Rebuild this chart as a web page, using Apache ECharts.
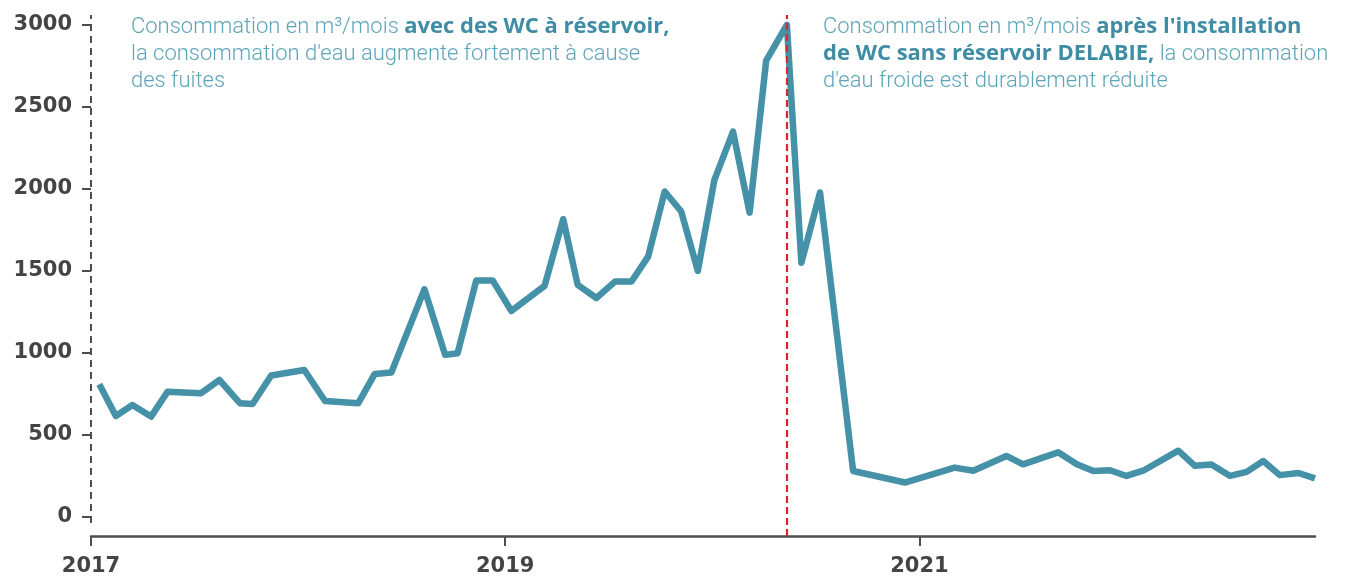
<!DOCTYPE html>
<html lang="fr">
<head>
<meta charset="utf-8">
<title>Consommation d'eau</title>
<script src="https://cdn.jsdelivr.net/npm/echarts@6/dist/echarts.min.js"></script>
<style>
  html, body { margin: 0; padding: 0; background: #ffffff; }
  #chart { width: 1353px; height: 577px; }
</style>
</head>
<body>
<div id="chart"></div>
<script>
// Reading dates, as decimal years
const periods = [
  2017.04, 2017.12, 2017.20, 2017.29, 2017.37, 2017.53, 2017.62, 2017.72, 2017.78, 2017.87,
  2018.03, 2018.13, 2018.29, 2018.37, 2018.45, 2018.61, 2018.71, 2018.77, 2018.86, 2018.94,
  2019.03, 2019.19, 2019.28, 2019.35, 2019.44, 2019.53, 2019.61, 2019.69, 2019.77, 2019.85,
  2019.93, 2020.01, 2020.10, 2020.18, 2020.26, 2020.36, 2020.43, 2020.52, 2020.68, 2020.93,
  2021.17, 2021.26, 2021.42, 2021.50, 2021.67, 2021.76, 2021.84, 2021.92, 2022.00, 2022.08,
  2022.25, 2022.33, 2022.41, 2022.50, 2022.58, 2022.66, 2022.74, 2022.83, 2022.91
];

// Monthly consumption (m3)
const consumption = [
  809, 616, 683, 612, 764, 754, 835, 693, 689, 862,
  896, 707, 693, 872, 880, 1388, 988, 998, 1441, 1441,
  1256, 1409, 1815, 1415, 1335, 1435, 1435, 1587, 1984, 1862,
  1500, 2055, 2349, 1855, 2782, 3000, 1550, 1978, 280, 210,
  301, 282, 372, 321, 394, 321, 280, 285, 250, 282,
  404, 312, 320, 250, 275, 341, 255, 268, 235
];

// Date of the DELABIE installation
const installation = 2020.36;

// Axis tick labels
const yearTicks = [2017, 2019, 2021];
const valueTicks = [0, 500, 1000, 1500, 2000, 2500, 3000];

const seriesData = periods.map((p, i) => [p, consumption[i]]);

const axisGrey = '#4d4d4d';
const lineTeal = '#4491a8';
const textTeal = '#5ea4b9';
const boldTeal = '#3f8ca4';
const numFont = '"DejaVu Sans", sans-serif';
const textFont = 'Roboto, "Noto Sans", sans-serif';
const boldFont = '"Open Sans", Roboto, sans-serif';

const richStyles = {
  r: { fontFamily: textFont, fontSize: 22, fontWeight: 300, fill: textTeal, lineHeight: 27 },
  b: { fontFamily: boldFont, fontSize: 22, fontWeight: 'bold', fill: boldTeal, lineHeight: 27 }
};

const chart = echarts.init(document.getElementById('chart'));

chart.setOption({
  animation: false,
  backgroundColor: '#ffffff',
  grid: { left: 91, right: 38, top: 15, bottom: 41, containLabel: false },
  xAxis: {
    type: 'value',
    min: yearTicks[0],
    max: 'dataMax',
    interval: 2,
    splitLine: { show: false },
    axisLine: { show: true, onZero: false, lineStyle: { color: axisGrey, width: 2.5 } },
    axisTick: {
      show: true, length: 10, inside: false,
      customValues: yearTicks,
      lineStyle: { color: axisGrey, width: 2 }
    },
    axisLabel: {
      customValues: yearTicks,
      margin: 20,
      color: '#444444',
      fontFamily: numFont,
      fontWeight: 'bold',
      fontSize: 21,
      formatter: v => String(v)
    }
  },
  yAxis: {
    type: 'value',
    min: -116,
    max: 3060,
    splitLine: { show: false },
    axisLine: { show: true, onZero: false, lineStyle: { color: axisGrey, opacity: 0 } },
    axisTick: {
      show: true, length: 9,
      customValues: valueTicks,
      lineStyle: { color: axisGrey, width: 2 }
    },
    axisLabel: {
      customValues: valueTicks,
      margin: 19,
      color: '#444444',
      fontFamily: numFont,
      fontWeight: 'bold',
      fontSize: 21,
      formatter: v => String(v)
    }
  },
  graphic: [
    {
      type: 'text',
      left: 131,
      top: 16,
      style: {
        text: '{r|Consommation en m³/mois }{b|avec des WC à réservoir,}\n{r|la consommation d\'eau augmente fortement à cause}\n{r|des fuites}',
        rich: richStyles
      }
    },
    {
      type: 'text',
      left: 823,
      top: 16,
      style: {
        text: '{r|Consommation en m³/mois }{b|après l\'installation}\n{b|de WC sans réservoir DELABIE,}{r| la consommation}\n{r|d\'eau froide est durablement réduite}',
        rich: richStyles
      }
    }
  ],
  series: [
    {
      type: 'line',
      data: seriesData,
      symbol: 'none',
      clip: false,
      lineStyle: { color: lineTeal, width: 6.5, join: 'round', cap: 'butt' },
      markLine: {
        silent: true,
        symbol: 'none',
        label: { show: false },
        data: [
          // installation date
          {
            xAxis: installation,
            lineStyle: { color: '#d7262d', width: 2.2, type: [7, 4] }
          },
          // dashed value axis line
          [
            { coord: [yearTicks[0], -36], lineStyle: { color: axisGrey, width: 2, type: [7, 5] } },
            { coord: [yearTicks[0], 3060] }
          ]
        ]
      }
    }
  ]
});
</script>
</body>
</html>
